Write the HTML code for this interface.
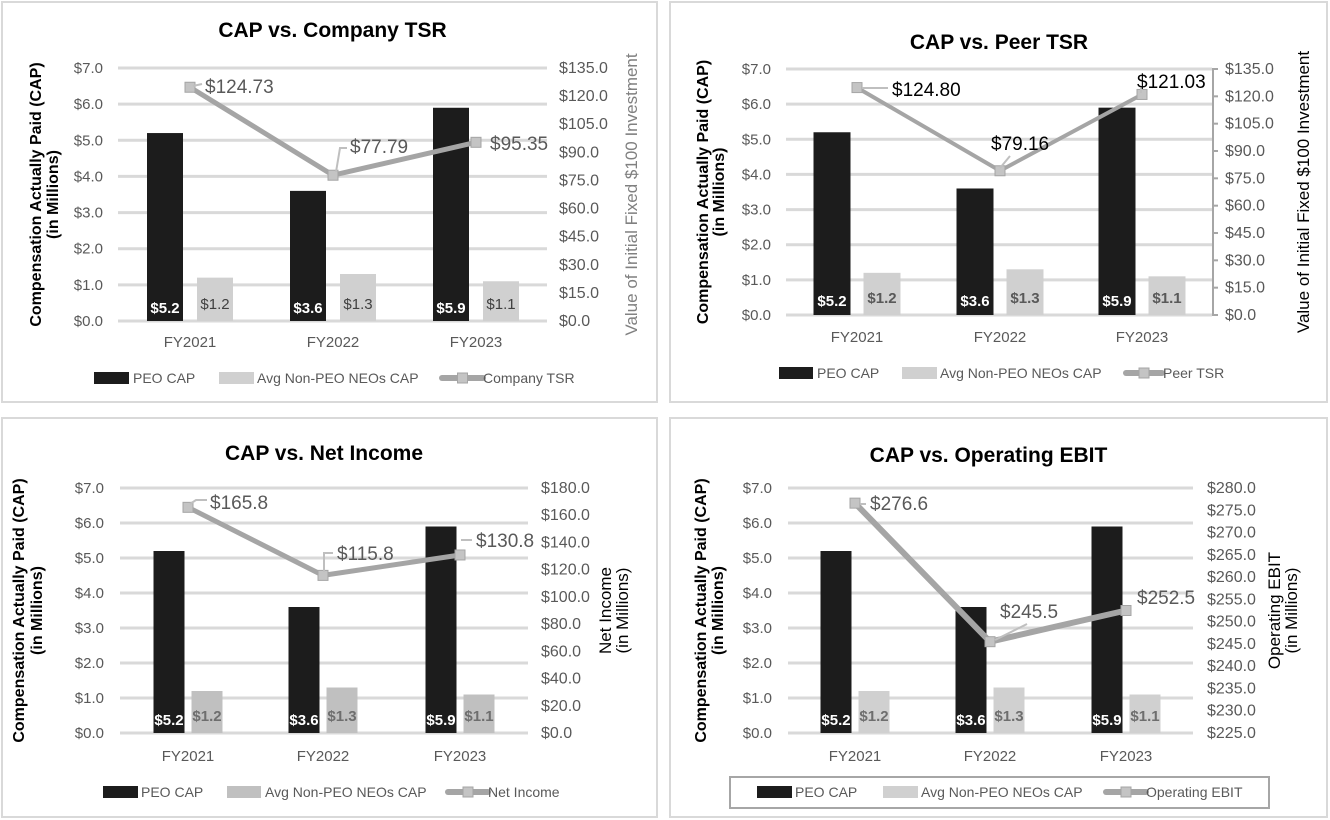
<!DOCTYPE html>
<html><head><meta charset="utf-8">
<style>
html,body{margin:0;padding:0;background:#fff;}
svg{display:block;font-family:"Liberation Sans Narrow","Liberation Sans",sans-serif;}
</style></head>
<body>
<svg id="root" width="1330" height="820" viewBox="0 0 1330 820" xmlns="http://www.w3.org/2000/svg"></svg>
<script>
// ---- data ----
const categories = ["FY2021","FY2022","FY2023"];
const peoCap = [5.2, 3.6, 5.9];
const nonPeoCap = [1.2, 1.3, 1.1];
const leftTicks = [0,1,2,3,4,5,6,7];
const companyTsr = [124.73, 77.79, 95.35];
const companyTsrLabels = ["$124.73","$77.79","$95.35"];
const tsrTicks = [0,15,30,45,60,75,90,105,120,135];
const peerTsr = [124.80, 79.16, 121.03];
const peerTsrLabels = ["$124.80","$79.16","$121.03"];
const netIncome = [165.8, 115.8, 130.8];
const netIncomeLabels = ["$165.8","$115.8","$130.8"];
const netIncomeTicks = [0,20,40,60,80,100,120,140,160,180];
const opEbit = [276.6, 245.5, 252.5];
const opEbitLabels = ["$276.6","$245.5","$252.5"];
const ebitTicks = [225,230,235,240,245,250,255,260,265,270,275,280];

const NS="http://www.w3.org/2000/svg";
const root=document.getElementById('root');
function mk(tag,attrs,parent,text){const e=document.createElementNS(NS,tag);for(const k in attrs)e.setAttribute(k,attrs[k]);if(text!==undefined)e.textContent=text;(parent||root).appendChild(e);return e;}

const charts=[
 {key:'company-tsr',title:'CAP vs. Company TSR',box:[2,2,657,402],titleY:37,gl:118,gr:547,yT:68,yB:321,cx:[190,333,476],bw:36,off:25,
  lTickX:103,rTickX:559,catY:347,legY:378,line:companyTsr,lineLbl:companyTsrLabels,rTicks:tsrTicks,lineName:'Company TSR',
  rTitle:['Value of Initial Fixed $100 Investment'],rTitleX:[637],rTitleColor:'#808080',lTitleX:[41,58],
  nonColor:'#d0d0d0',nonLblColor:'#404040',nonLblBold:false,nonLblY:-12,peoLblY:8,lw:5,
  lblPos:[[205,93],[350,153],[490,150]],leaders:[[[193,86],[202,84]],[[336,172],[340,148],[347,148]],null],lblColor:'#595959',
  leg:[[94,129,133],[219,254,257],[442,483,483]],legBox:null,axisLine:false},
 {key:'peer-tsr',title:'CAP vs. Peer TSR',box:[670,2,1327,402],titleY:49,gl:786,gr:1212,yT:69,yB:315,cx:[857,1000,1142],bw:37,off:25,
  lTickX:771,rTickX:1225,catY:342,legY:373,line:peerTsr,lineLbl:peerTsrLabels,rTicks:tsrTicks,lineName:'Peer TSR',
  rTitle:['Value of Initial Fixed $100 Investment'],rTitleX:[1309],rTitleColor:'#000',lTitleX:[708,724],
  nonColor:'#d0d0d0',nonLblColor:'#595959',nonLblBold:true,nonLblY:-12,peoLblY:9,lw:4,
  lblPos:[[892,96],[991,150],[1137,88]],leaders:[[[862,88],[888,88]],[[1000,168],[1010,156]],[[1141,93],[1141,88]]],lblColor:'#000',
  leg:[[779,813,817],[902,937,940],[1126,1162,1163]],legBox:null,axisLine:true},
 {key:'net-income',title:'CAP vs. Net Income',box:[2,418,657,817],titleY:460,gl:120,gr:528,yT:488,yB:733,cx:[188,323,460],bw:31,off:19,
  lTickX:104,rTickX:541,catY:761,legY:792,line:netIncome,lineLbl:netIncomeLabels,rTicks:netIncomeTicks,lineName:'Net Income',
  rTitle:['Net Income','(in Millions)'],rTitleX:[611,628],rTitleColor:'#000',lTitleX:[24,42],
  nonColor:'#c0c0c0',nonLblColor:'#6e6e6e',nonLblBold:true,nonLblY:-12,peoLblY:8,lw:5,
  lblPos:[[210,509],[337,560],[476,547]],leaders:[[[190,504],[196,500],[207,500]],[[324,572],[324,553],[333,553]],[[461,540],[472,540]]],lblColor:'#595959',
  leg:[[103,138,141],[227,261,265],[448,488,488]],legBox:null,axisLine:false},
 {key:'operating-ebit',title:'CAP vs. Operating EBIT',box:[670,418,1327,817],titleY:462,gl:788,gr:1193,yT:488,yB:733,cx:[855,990,1126],bw:31,off:19,
  lTickX:772,rTickX:1207,catY:761,legY:792,line:opEbit,lineLbl:opEbitLabels,rTicks:ebitTicks,lineName:'Operating EBIT',
  rTitle:['Operating EBIT','(in Millions)'],rTitleX:[1280,1297],rTitleColor:'#000',lTitleX:[706,723],
  nonColor:'#d0d0d0',nonLblColor:'#6e6e6e',nonLblBold:true,nonLblY:-12,peoLblY:8,lw:6,
  lblPos:[[870,510],[1000,618],[1137,604]],leaders:[[[860,504],[866,504]],[[995,640],[1027,624]],null],lblColor:'#595959',
  leg:[[757,792,795],[883,918,921],[1106,1146,1146]],legBox:true,axisLine:false}
];

charts.forEach(c=>{
 const g=mk('g',{});
 
 
 const b=c.box;
 const frame=mk('rect',{x:b[0],y:b[1],width:b[2]-b[0],height:b[3]-b[1],fill:'#fff',stroke:'#d9d9d9','stroke-width':2},g);
 
 
 const t=mk('text',{x:(c.gl+c.gr)/2+ (c.key==='operating-ebit'?-2:0),y:c.titleY,'text-anchor':'middle','font-size':21,'font-weight':'bold',fill:'#000'},g,c.title);
 
 
 const lmax=7, rmin=c.rTicks[0], rmax=c.rTicks[c.rTicks.length-1];
 const yL=v=>c.yB-(v/lmax)*(c.yB-c.yT);
 const yR=v=>c.yB-((v-rmin)/(rmax-rmin))*(c.yB-c.yT);
 leftTicks.forEach(v=>{
  const ln=mk('line',{x1:c.gl,x2:c.gr,y1:yL(v),y2:yL(v),stroke:'#d9d9d9','stroke-width':3},g);
  
  
  const tx=mk('text',{x:c.lTickX,y:yL(v)+5,'text-anchor':'end','font-size':15,fill:'#595959'},g,'$'+v.toFixed(1));
  
  
 });
 c.rTicks.forEach(v=>{
  const tx=mk('text',{x:c.rTickX,y:yR(v)+5,'text-anchor':'start','font-size':16,fill:'#595959'},g,'$'+v.toFixed(1));
  
  
  if(c.axisLine){const tk=mk('line',{x1:c.gr,x2:c.gr+6,y1:yR(v),y2:yR(v),stroke:'#a6a6a6','stroke-width':2},g);
   
   }
 });
 if(c.axisLine){const al=mk('line',{x1:c.gr+1,x2:c.gr+1,y1:c.yT,y2:c.yB,stroke:'#a6a6a6','stroke-width':2},g);
  
  }
 const mid=(c.yT+c.yB)/2;
 ['Compensation Actually Paid (CAP)','(in Millions)'].forEach((s,i)=>{
  const tx=mk('text',{x:c.lTitleX[i],y:mid,'text-anchor':'middle','font-size':16,'font-weight':'bold',fill:'#000','font-family':'Liberation Sans',transform:`rotate(-90 ${c.lTitleX[i]} ${mid})`},g,s);
  
  
 });
 c.rTitle.forEach((s,i)=>{
  const tx=mk('text',{x:c.rTitleX[i],y:mid,'text-anchor':'middle','font-size':17,fill:c.rTitleColor,transform:`rotate(-90 ${c.rTitleX[i]} ${mid})`},g,s);
  
  
 });
 categories.forEach((cat,i)=>{
  const x1=c.cx[i]-c.off-c.bw/2, x2=c.cx[i]+c.off-c.bw/2;
  const r1=mk('rect',{x:x1,y:yL(peoCap[i]),width:c.bw,height:c.yB-yL(peoCap[i]),fill:'#1c1c1c'},g);
  
  
  const r2=mk('rect',{x:x2,y:yL(nonPeoCap[i]),width:c.bw,height:c.yB-yL(nonPeoCap[i]),fill:c.nonColor},g);
  
  
  const l1=mk('text',{x:x1+c.bw/2,y:c.yB-c.peoLblY,'text-anchor':'middle','font-size':15,'font-weight':'bold',fill:'#fff'},g,'$'+peoCap[i].toFixed(1));
  
  
  const l2=mk('text',{x:x2+c.bw/2,y:c.yB+c.nonLblY,'text-anchor':'middle','font-size':15,'font-weight':c.nonLblBold?'bold':'normal',fill:c.nonLblColor},g,'$'+nonPeoCap[i].toFixed(1));
  
  
  const cl=mk('text',{x:c.cx[i],y:c.catY,'text-anchor':'middle','font-size':15,fill:'#595959'},g,cat);
  
  
 });
 const pts=c.line.map((v,i)=>c.cx[i]+','+yR(v)).join(' ');
 const pl=mk('polyline',{points:pts,fill:'none',stroke:'#a5a5a5','stroke-width':c.lw,'stroke-linejoin':'round'},g);
 
 
 c.line.forEach((v,i)=>{
  const m=mk('rect',{x:c.cx[i]-5,y:yR(v)-5,width:10,height:10,fill:'#c4c4c4',stroke:'#a5a5a5','stroke-width':1},g);
  
  
  if(c.leaders[i]){const ld=mk('polyline',{points:c.leaders[i].map(p=>p.join(',')).join(' '),fill:'none',stroke:'#bfbfbf','stroke-width':2},g);
   
   }
  const lt=mk('text',{x:c.lblPos[i][0],y:c.lblPos[i][1],'font-size':19,fill:c.lblColor},g,c.lineLbl[i]);
  
  
 });
 if(c.legBox){const lb=mk('rect',{x:730,y:777,width:539,height:31,fill:'none',stroke:'#a6a6a6','stroke-width':2},g);
  
  }
 const L=c.leg, ly=c.legY;
 const s1=mk('rect',{x:L[0][0],y:ly-6,width:L[0][1]-L[0][0],height:12,fill:'#1c1c1c'},g);
 
 
 const t1=mk('text',{x:L[0][2],y:ly+5,'font-size':14,fill:'#595959'},g,'PEO CAP');
 
 
 const s2=mk('rect',{x:L[1][0],y:ly-6,width:L[1][1]-L[1][0],height:12,fill:c.nonColor},g);
 
 
 const t2=mk('text',{x:L[1][2],y:ly+5,'font-size':14,fill:'#595959'},g,'Avg Non-PEO NEOs CAP');
 
 
 const s3=mk('line',{x1:L[2][0],x2:L[2][1],y1:ly,y2:ly,stroke:'#a5a5a5','stroke-width':6,'stroke-linecap':'round'},g);
 
 
 const s3m=mk('rect',{x:(L[2][0]+L[2][1])/2-5,y:ly-5,width:10,height:10,fill:'#c4c4c4',stroke:'#a5a5a5'},g);
 
 
 const t3=mk('text',{x:L[2][2],y:ly+5,'font-size':14,fill:'#595959'},g,c.lineName);
 
 
});
</script>
</body></html>
